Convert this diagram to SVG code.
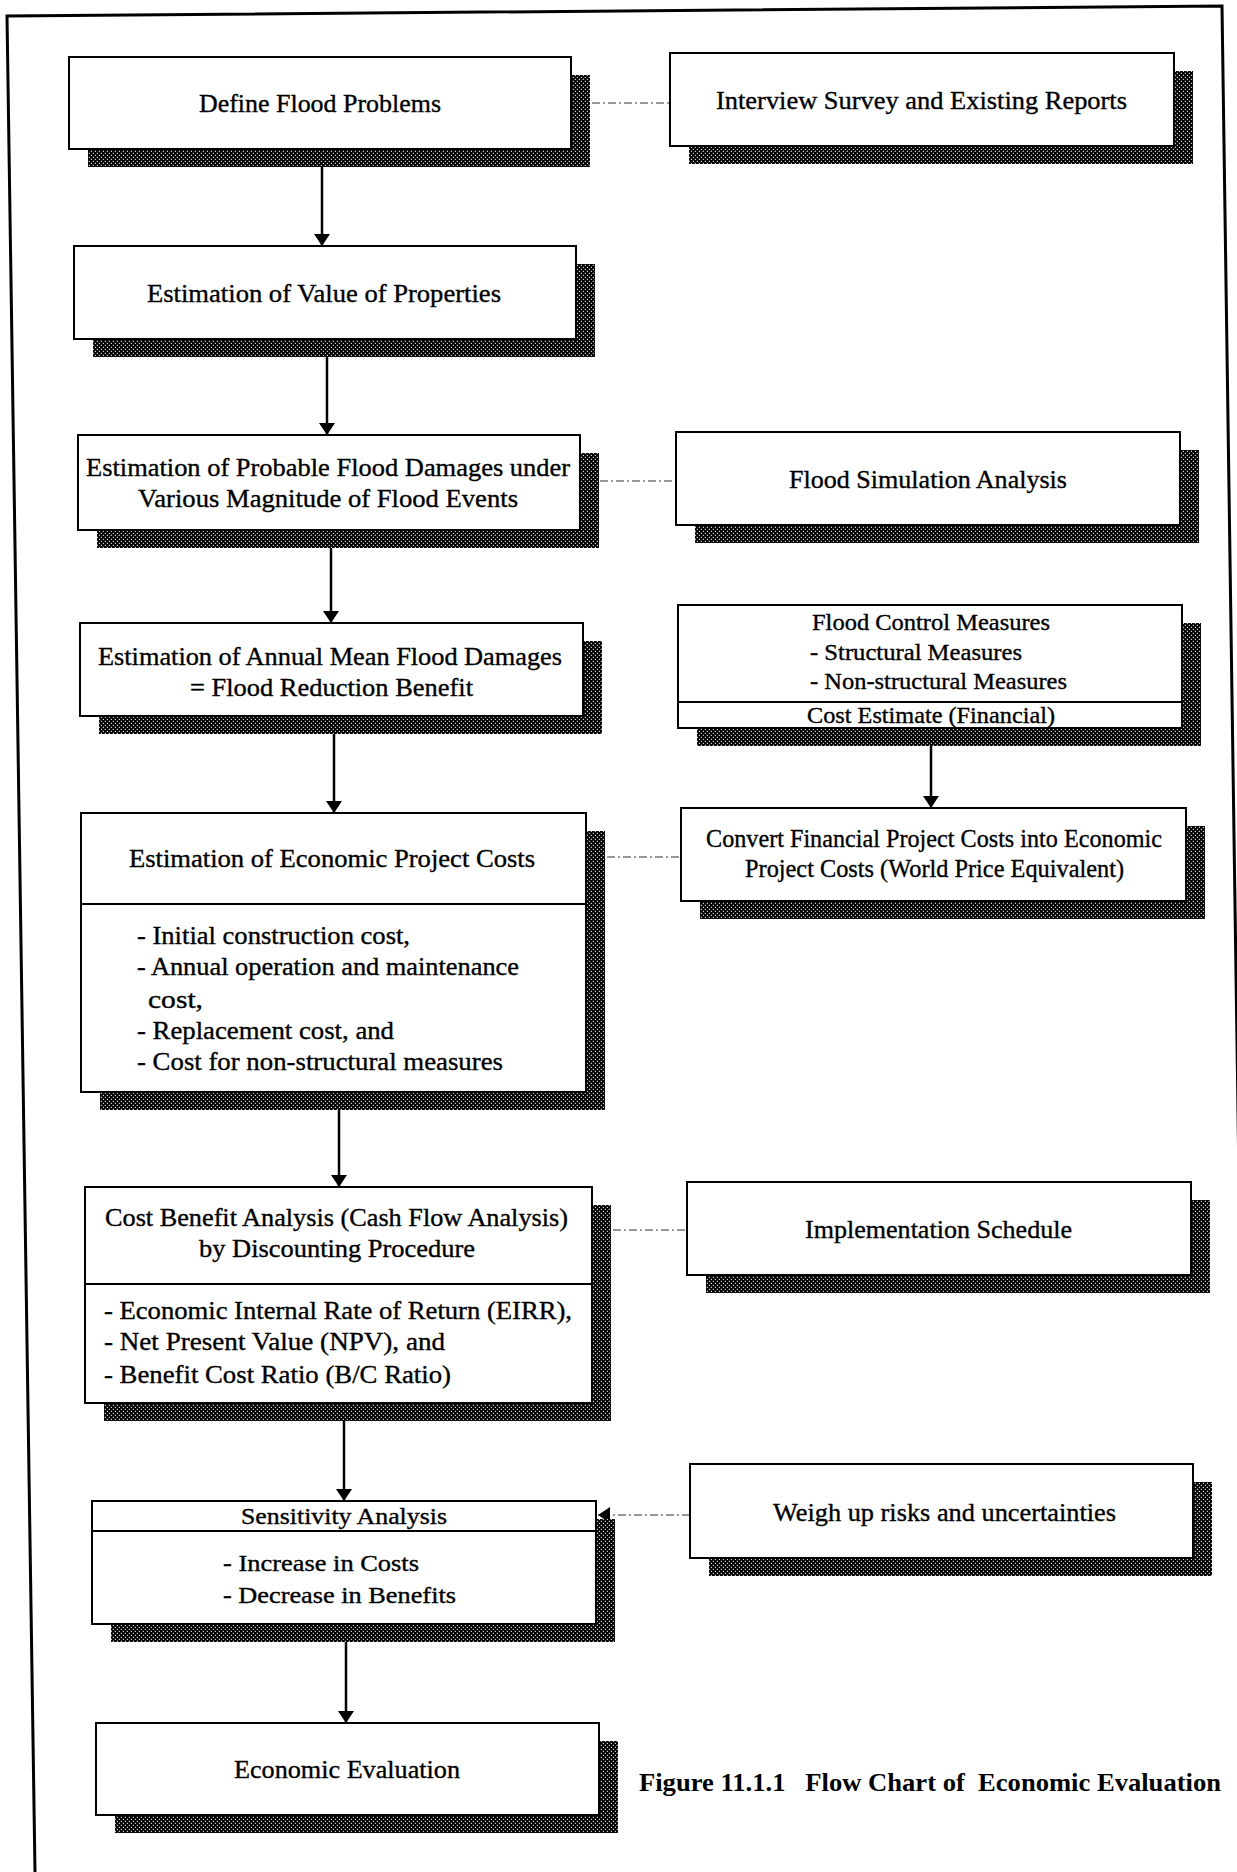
<svg xmlns="http://www.w3.org/2000/svg" width="1237" height="1872" viewBox="0 0 1237 1872">
<defs>
<pattern id="dots" width="4" height="4" patternUnits="userSpaceOnUse">
<rect width="4" height="4" fill="#000"/>
<rect x="0.8" y="0.8" width="1.1" height="1.1" fill="#fff"/>
<rect x="2.8" y="2.8" width="1.1" height="1.1" fill="#fff"/>
</pattern>
<marker id="ah" viewBox="0 0 12 16" refX="12" refY="8" markerWidth="12" markerHeight="16" markerUnits="userSpaceOnUse" orient="auto">
<path d="M0,0 L12,8 L0,16 Z" fill="#000"/>
</marker>
</defs>
<style>
.box{fill:#fff;stroke:#000;stroke-width:2}
.sh{fill:url(#dots)}
.div{stroke:#000;stroke-width:2}
.t{font-family:"Liberation Serif","Times New Roman",serif;font-size:25px;fill:#000;stroke:#000;stroke-width:0.35}
.s{font-family:"Liberation Serif","Times New Roman",serif;font-size:23px;fill:#000;stroke:#000;stroke-width:0.35}
.cap{font-family:"Liberation Serif","Times New Roman",serif;font-size:25px;font-weight:bold;fill:#000;white-space:pre}
.arr{stroke:#000;stroke-width:2.5;fill:none;marker-end:url(#ah)}
.dash{stroke:#333;stroke-width:1.2;fill:none;stroke-dasharray:8 3 2 3}
</style>
<rect width="1237" height="1872" fill="#fff"/>
<g id="frame">
<path d="M35,1872 L7,16 L1222,6 L1240,1250" fill="none" stroke="#000" stroke-width="3"/>
</g>
<g id="connectors">
<line class="arr" x1="322" y1="150" x2="322" y2="246"/>
<line class="arr" x1="327" y1="339" x2="327" y2="435"/>
<line class="arr" x1="331" y1="530" x2="331" y2="623"/>
<line class="arr" x1="334" y1="716" x2="334" y2="813"/>
<line class="arr" x1="339" y1="1092" x2="339" y2="1187"/>
<line class="arr" x1="344" y1="1403" x2="344" y2="1501"/>
<line class="arr" x1="346" y1="1624" x2="346" y2="1723"/>
<line class="arr" x1="931" y1="728" x2="931" y2="808"/>
<line class="dash" x1="592" y1="103" x2="670" y2="103"/>
<line class="dash" x1="600" y1="481" x2="676" y2="481"/>
<line class="dash" x1="607" y1="857" x2="681" y2="857"/>
<line class="dash" x1="613" y1="1230" x2="687" y2="1230"/>
<line class="dash" x1="690" y1="1515" x2="598" y2="1515" marker-end="url(#ah)"/>
</g>
<g id="n1">
<rect class="sh" x="88" y="75" width="502" height="92"/>
<rect class="box" x="69" y="57" width="502" height="92"/>
<text class="t" x="199" y="112" textLength="242" lengthAdjust="spacingAndGlyphs">Define Flood Problems</text>
</g>
<g id="n2">
<rect class="sh" x="689" y="71" width="504" height="93"/>
<rect class="box" x="670" y="53" width="504" height="93"/>
<text class="t" x="716" y="109" textLength="411" lengthAdjust="spacingAndGlyphs">Interview Survey and Existing Reports</text>
</g>
<g id="n3">
<rect class="sh" x="93" y="264" width="502" height="93"/>
<rect class="box" x="74" y="246" width="502" height="93"/>
<text class="t" x="147" y="302" textLength="354" lengthAdjust="spacingAndGlyphs">Estimation of Value of Properties</text>
</g>
<g id="n4">
<rect class="sh" x="97" y="453" width="502" height="95"/>
<rect class="box" x="78" y="435" width="502" height="95"/>
<text class="t" x="86" y="476" textLength="484" lengthAdjust="spacingAndGlyphs">Estimation of Probable Flood Damages under</text>
<text class="t" x="138" y="507" textLength="380" lengthAdjust="spacingAndGlyphs">Various Magnitude of Flood Events</text>
</g>
<g id="n5">
<rect class="sh" x="695" y="450" width="504" height="93"/>
<rect class="box" x="676" y="432" width="504" height="93"/>
<text class="t" x="789" y="488" textLength="278" lengthAdjust="spacingAndGlyphs">Flood Simulation Analysis</text>
</g>
<g id="n6">
<rect class="sh" x="99" y="641" width="503" height="93"/>
<rect class="box" x="80" y="623" width="503" height="93"/>
<text class="t" x="98" y="665" textLength="464" lengthAdjust="spacingAndGlyphs">Estimation of Annual Mean Flood Damages</text>
<text class="t" x="190" y="696" textLength="283" lengthAdjust="spacingAndGlyphs">= Flood Reduction Benefit</text>
</g>
<g id="n7">
<rect class="sh" x="697" y="623" width="504" height="123"/>
<rect class="box" x="678" y="605" width="504" height="123"/>
<line class="div" x1="678" y1="702" x2="1182" y2="702"/>
<text class="s" x="812" y="630" textLength="238" lengthAdjust="spacingAndGlyphs">Flood Control Measures</text>
<text class="s" x="810" y="660" textLength="212" lengthAdjust="spacingAndGlyphs">- Structural Measures</text>
<text class="s" x="810" y="689" textLength="257" lengthAdjust="spacingAndGlyphs">- Non-structural Measures</text>
<text class="s" x="807" y="723" textLength="248" lengthAdjust="spacingAndGlyphs">Cost Estimate (Financial)</text>
</g>
<g id="n8">
<rect class="sh" x="700" y="826" width="505" height="93"/>
<rect class="box" x="681" y="808" width="505" height="93"/>
<text class="t" x="706" y="847" textLength="456" lengthAdjust="spacingAndGlyphs">Convert Financial Project Costs into Economic</text>
<text class="t" x="745" y="877" textLength="379" lengthAdjust="spacingAndGlyphs">Project Costs (World Price Equivalent)</text>
</g>
<g id="n9">
<rect class="sh" x="100" y="831" width="505" height="279"/>
<rect class="box" x="81" y="813" width="505" height="279"/>
<line class="div" x1="81" y1="904" x2="586" y2="904"/>
<text class="t" x="129" y="867" textLength="406" lengthAdjust="spacingAndGlyphs">Estimation of Economic Project Costs</text>
<text class="t" x="137" y="944" textLength="273" lengthAdjust="spacingAndGlyphs">- Initial construction cost,</text>
<text class="t" x="137" y="975" textLength="382" lengthAdjust="spacingAndGlyphs">- Annual operation and maintenance</text>
<text class="t" x="148" y="1008" textLength="55" lengthAdjust="spacingAndGlyphs">cost,</text>
<text class="t" x="137" y="1039" textLength="257" lengthAdjust="spacingAndGlyphs">- Replacement cost, and</text>
<text class="t" x="137" y="1070" textLength="366" lengthAdjust="spacingAndGlyphs">- Cost for non-structural measures</text>
</g>
<g id="n10">
<rect class="sh" x="104" y="1205" width="507" height="216"/>
<rect class="box" x="85" y="1187" width="507" height="216"/>
<line class="div" x1="85" y1="1284" x2="592" y2="1284"/>
<text class="t" x="105" y="1226" textLength="463" lengthAdjust="spacingAndGlyphs">Cost Benefit Analysis (Cash Flow Analysis)</text>
<text class="t" x="199" y="1257" textLength="276" lengthAdjust="spacingAndGlyphs">by Discounting Procedure</text>
<text class="t" x="104" y="1319" textLength="468" lengthAdjust="spacingAndGlyphs">- Economic Internal Rate of Return (EIRR),</text>
<text class="t" x="104" y="1350" textLength="341" lengthAdjust="spacingAndGlyphs">- Net Present Value (NPV), and</text>
<text class="t" x="104" y="1383" textLength="347" lengthAdjust="spacingAndGlyphs">- Benefit Cost Ratio (B/C Ratio)</text>
</g>
<g id="n11">
<rect class="sh" x="706" y="1200" width="504" height="93"/>
<rect class="box" x="687" y="1182" width="504" height="93"/>
<text class="t" x="805" y="1238" textLength="267" lengthAdjust="spacingAndGlyphs">Implementation Schedule</text>
</g>
<g id="n12">
<rect class="sh" x="111" y="1519" width="504" height="123"/>
<rect class="box" x="92" y="1501" width="504" height="123"/>
<line class="div" x1="92" y1="1531" x2="596" y2="1531"/>
<text class="s" x="241" y="1524" textLength="206" lengthAdjust="spacingAndGlyphs">Sensitivity Analysis</text>
<text class="s" x="223" y="1571" textLength="196" lengthAdjust="spacingAndGlyphs">- Increase in Costs</text>
<text class="s" x="223" y="1603" textLength="233" lengthAdjust="spacingAndGlyphs">- Decrease in Benefits</text>
</g>
<g id="n13">
<rect class="sh" x="709" y="1482" width="503" height="94"/>
<rect class="box" x="690" y="1464" width="503" height="94"/>
<text class="t" x="773" y="1521" textLength="343" lengthAdjust="spacingAndGlyphs">Weigh up risks and uncertainties</text>
</g>
<g id="n14">
<rect class="sh" x="115" y="1741" width="503" height="92"/>
<rect class="box" x="96" y="1723" width="503" height="92"/>
<text class="t" x="234" y="1778" textLength="226" lengthAdjust="spacingAndGlyphs">Economic Evaluation</text>
</g>
<g id="caption">
<text class="cap" x="639" y="1791" textLength="582" lengthAdjust="spacingAndGlyphs">Figure 11.1.1   Flow Chart of  Economic Evaluation</text>
</g>
</svg>
